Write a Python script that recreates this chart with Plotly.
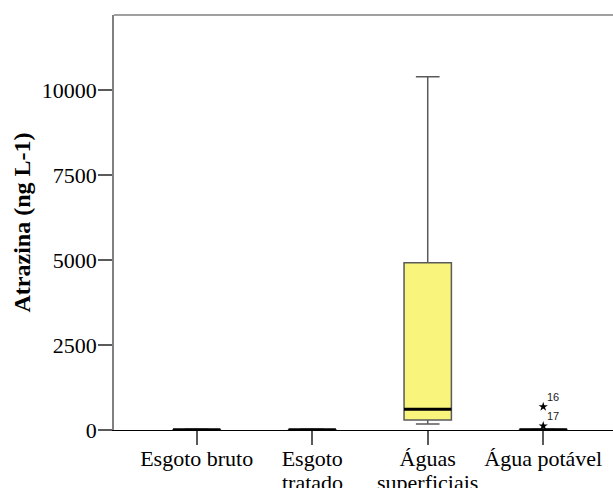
import plotly.graph_objects as go

categories = ["Esgoto bruto", "Esgoto", "Águas", "Água potável"]
categories_line2 = ["", "tratado", "superficiais", ""]
q1_vals = [2, 2, 295, 2]
median_vals = [5, 5, 610, 6]
q3_vals = [10, 10, 4920, 12]
lower_vals = [0, 0, 175, 0]
upper_vals = [20, 20, 10390, 25]
outlier_cat = [3, 3]
outlier_vals = [685, 118]
outlier_ids = ["16", "17"]
y_ticks = [0, 2500, 5000, 7500, 10000]

SERIF = "Liberation Serif, Times New Roman, serif"
box_w = 0.41
fig = go.Figure()
for i in range(len(categories)):
    fig.add_trace(go.Box(
        x=[i], q1=[q1_vals[i]], median=[median_vals[i]], q3=[q3_vals[i]],
        lowerfence=[lower_vals[i]], upperfence=[upper_vals[i]],
        width=box_w, whiskerwidth=0.5, boxpoints=False,
        fillcolor="#F9F47B", line=dict(color="#5a5a5a", width=1.5),
        showlegend=False, hoverinfo="skip"))
    fig.add_shape(type="line", xref="x", yref="y",
                  x0=i - box_w / 2, x1=i + box_w / 2,
                  y0=median_vals[i], y1=median_vals[i],
                  line=dict(color="black", width=3))
    if categories_line2[i]:
        fig.add_annotation(x=i, y=0, xref="x", yref="y", text=categories_line2[i],
                           showarrow=False, yanchor="top", yshift=-38,
                           font=dict(family=SERIF, size=22, color="black"))

fig.add_trace(go.Scatter(x=outlier_cat, y=outlier_vals, mode="markers",
                         marker=dict(symbol="star", size=7, color="black"),
                         showlegend=False, hoverinfo="skip"))
for c, v, t in zip(outlier_cat, outlier_vals, outlier_ids):
    fig.add_annotation(x=c, y=v, text=t, showarrow=False, xref="x", yref="y",
                       xshift=10, yshift=10,
                       font=dict(family="Liberation Sans, Arial, sans-serif", size=11, color="#222222"))

fig.add_shape(type="line", xref="paper", yref="paper", x0=0, x1=1, y0=1, y1=1,
              line=dict(color="#808080", width=1.5))

fig.update_layout(
    width=613, height=488,
    margin=dict(l=114, r=0, t=15, b=58, autoexpand=False),
    paper_bgcolor="white", plot_bgcolor="white",
    font=dict(family=SERIF, size=22, color="black"),
    xaxis=dict(range=[-0.716, 3.604], tickvals=list(range(len(categories))),
               ticktext=categories, showgrid=False, zeroline=False, automargin=False,
               showline=True, linecolor="black", linewidth=1,
               tickfont=dict(family=SERIF, size=22, color="black"),
               ticklabelstandoff=-5,
               ticks="outside", ticklen=14, tickcolor="#5a5a5a", tickwidth=1.5),
    yaxis=dict(range=[0, 12206], tickvals=y_ticks, ticktext=[str(v) for v in y_ticks],
               showgrid=False, zeroline=False, automargin=False,
               showline=True, linecolor="#808080", linewidth=1.5,
               tickfont=dict(family=SERIF, size=22, color="black"),
               ticks="outside", ticklen=14, tickcolor="#5a5a5a", tickwidth=1.5,
               ticklabelstandoff=-3,
               title=dict(text="<b>Atrazina (ng L-1)</b>", standoff=4,
                          font=dict(family=SERIF, size=24, color="black"))),
)
fig.write_html("out.html", config={"displayModeBar": False},
               post_script="document.body.style.margin='0';")
